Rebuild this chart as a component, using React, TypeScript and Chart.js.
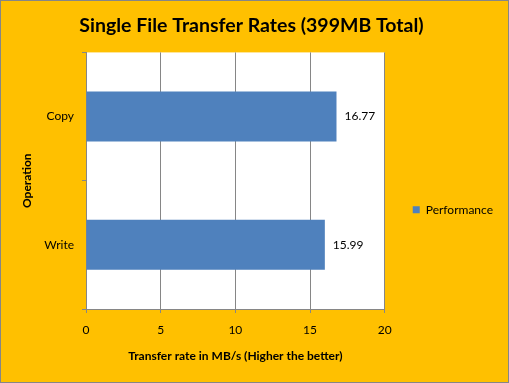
import React, { useEffect, useRef } from "react";
import { Chart, registerables } from "chart.js";

Chart.register(...registerables);

const categories = ["Copy", "Write"];
const seriesName = "Performance";
const values = [16.77, 15.99];
const xTicks = [0, 5, 10, 15, 20];
const titleText = "Single File Transfer Rates (399MB Total)";
const xTitle = "Transfer rate in MB/s (Higher the better)";
const yTitle = "Operation";

const FONT = "Lato, 'Open Sans', sans-serif";

const bgPlugin = {
  id: "bg",
  beforeDraw(chart: any) {
    const { ctx, width, height, chartArea } = chart;
    ctx.save();
    ctx.fillStyle = "#FFC000";
    ctx.fillRect(0, 0, width, height);
    ctx.strokeStyle = "#868686";
    ctx.lineWidth = 1;
    ctx.strokeRect(0.5, 0.5, width - 1, height - 1);
    ctx.fillStyle = "#FFFFFF";
    ctx.fillRect(chartArea.left, chartArea.top, chartArea.right - chartArea.left, chartArea.bottom - chartArea.top);
    ctx.restore();
  },
};

const labelPlugin = {
  id: "valueLabels",
  afterDatasetsDraw(chart: any) {
    const { ctx } = chart;
    const meta = chart.getDatasetMeta(0);
    ctx.save();
    ctx.fillStyle = "#000";
    ctx.font = `12px ${FONT}`;
    ctx.textAlign = "left";
    ctx.textBaseline = "middle";
    meta.data.forEach((el: any, i: number) => {
      ctx.fillText(values[i].toFixed(2), el.x + 8, el.y);
    });
    ctx.restore();
  },
};

export default function App() {
  const ref = useRef<HTMLCanvasElement>(null);
  useEffect(() => {
    document.body.style.margin = "0";
    const chart = new Chart(ref.current!, {
      type: "bar",
      data: {
        labels: categories,
        datasets: [
          {
            label: seriesName,
            data: values,
            backgroundColor: "#4F81BD",
            borderWidth: 0,
            barPercentage: 0.39,
            categoryPercentage: 1,
          },
        ],
      },
      options: {
        indexAxis: "y",
        responsive: false,
        animation: false,
        devicePixelRatio: 1,
        layout: { padding: { top: 0, right: 6, bottom: 0, left: 0 } },
        plugins: {
          title: {
            display: true,
            text: titleText,
            color: "#000",
            font: { family: FONT, size: 19.5, weight: "bold" },
            padding: { top: 14, bottom: 15 },
          },
          legend: {
            position: "right",
            title: { display: true, text: " ", padding: 11, font: { family: FONT, size: 12 } },
            labels: {
              boxWidth: 7,
              boxHeight: 7,
              padding: 28,
              color: "#000",
              font: { family: FONT, size: 12 },
            },
          },
          tooltip: { enabled: false },
        },
        scales: {
          x: {
            type: "linear",
            min: 0,
            max: 20,
            afterBuildTicks(scale: any) {
              scale.ticks = xTicks.map((v) => ({ value: v }));
            },
            afterFit(scale: any) {
              scale.height = 74;
            },
            grid: { color: "#868686", tickLength: 4, drawTicks: true },
            border: { color: "#868686" },
            ticks: { color: "#000", padding: 10, font: { family: FONT, size: 12 } },
            title: {
              display: true,
              text: xTitle,
              color: "#000",
              font: { family: FONT, size: 12, weight: "bold" },
              padding: { top: 0, bottom: 20 },
            },
          },
          y: {
            afterFit(scale: any) {
              scale.width = 86;
            },
            grid: { color: "#868686", offset: true, drawOnChartArea: false, tickLength: 4 },
            border: { color: "#868686" },
            ticks: { color: "#000", padding: 8, font: { family: FONT, size: 12 } },
            title: {
              display: true,
              text: yTitle,
              color: "#000",
              font: { family: FONT, size: 12, weight: "bold" },
              padding: { top: 20, bottom: 0 },
            },
          },
        },
      } as any,
      plugins: [bgPlugin, labelPlugin],
    });
    return () => chart.destroy();
  }, []);
  return (
    <div style={{ width: 509, height: 383 }}>
      <canvas ref={ref} width={509} height={383} />
    </div>
  );
}
